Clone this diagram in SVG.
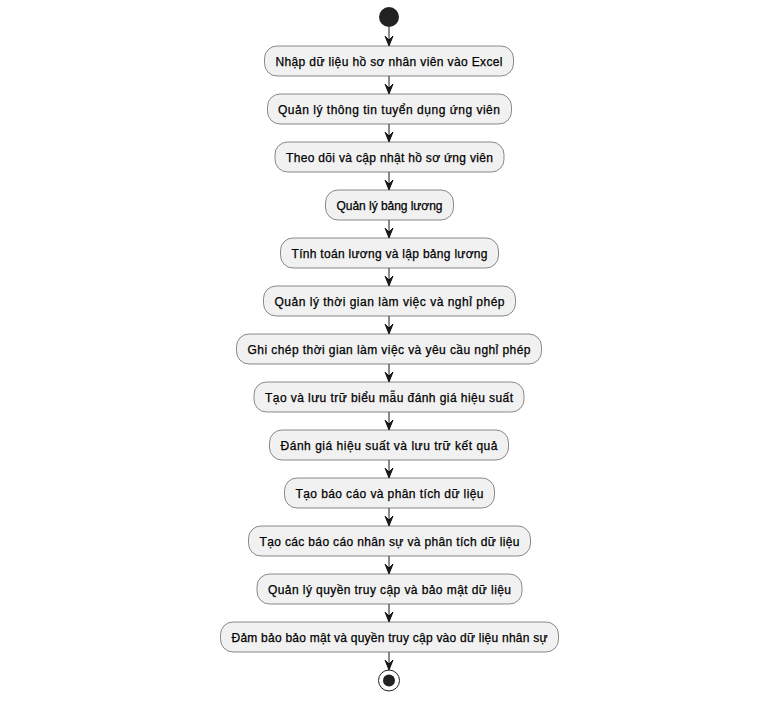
<svg xmlns="http://www.w3.org/2000/svg" width="779" height="707" viewBox="0 0 779 707">
<style>
.b{fill:#F1F1F1;stroke:#181818;stroke-width:0.5}
.t{font-family:"Liberation Sans",Arial,sans-serif;font-size:12px;fill:#000;stroke:#000;stroke-width:0.25;text-anchor:middle}
.c line{stroke:#181818;stroke-width:1}
.c polygon{fill:#181818;stroke:#181818;stroke-width:1}
</style>
<rect width="779" height="707" fill="#FFFFFF"/>
<g id="start"><circle cx="389" cy="17" r="10" fill="#222222"/></g>
<g id="n1"><rect class="b" x="264.5" y="46" width="249" height="30" rx="12.5"/><text class="t" x="389" y="65.5" textLength="227" lengthAdjust="spacing">Nhập dữ liệu hồ sơ nhân viên vào Excel</text></g>
<g id="n2"><rect class="b" x="267.5" y="94" width="244" height="30" rx="12.5"/><text class="t" x="389" y="113.5" textLength="222" lengthAdjust="spacing">Quản lý thông tin tuyển dụng ứng viên</text></g>
<g id="n3"><rect class="b" x="275" y="142" width="229" height="30" rx="12.5"/><text class="t" x="389.5" y="161.5" textLength="207" lengthAdjust="spacing">Theo dõi và cập nhật hồ sơ ứng viên</text></g>
<g id="n4"><rect class="b" x="325.5" y="190" width="128" height="30" rx="12.5"/><text class="t" x="389.5" y="209.5" textLength="106" lengthAdjust="spacing">Quản lý bảng lương</text></g>
<g id="n5"><rect class="b" x="280.5" y="238" width="218" height="30" rx="12.5"/><text class="t" x="389.5" y="257.5" textLength="196" lengthAdjust="spacing">Tính toán lương và lập bảng lương</text></g>
<g id="n6"><rect class="b" x="263.5" y="286" width="252" height="30" rx="12.5"/><text class="t" x="389.5" y="305.5" textLength="230" lengthAdjust="spacing">Quản lý thời gian làm việc và nghỉ phép</text></g>
<g id="n7"><rect class="b" x="236.5" y="334" width="305" height="30" rx="12.5"/><text class="t" x="389" y="353.5" textLength="283" lengthAdjust="spacing">Ghi chép thời gian làm việc và yêu cầu nghỉ phép</text></g>
<g id="n8"><rect class="b" x="254" y="382" width="270" height="30" rx="12.5"/><text class="t" x="389" y="401.5" textLength="248" lengthAdjust="spacing">Tạo và lưu trữ biểu mẫu đánh giá hiệu suất</text></g>
<g id="n9"><rect class="b" x="269.5" y="430" width="239" height="30" rx="12.5"/><text class="t" x="389" y="449.5" textLength="217" lengthAdjust="spacing">Đánh giá hiệu suất và lưu trữ kết quả</text></g>
<g id="n10"><rect class="b" x="284.5" y="478" width="210" height="30" rx="12.5"/><text class="t" x="389.5" y="497.5" textLength="188" lengthAdjust="spacing">Tạo báo cáo và phân tích dữ liệu</text></g>
<g id="n11"><rect class="b" x="248.5" y="526" width="282" height="30" rx="12.5"/><text class="t" x="389.5" y="545.5" textLength="260" lengthAdjust="spacing">Tạo các báo cáo nhân sự và phân tích dữ liệu</text></g>
<g id="n12"><rect class="b" x="257" y="574" width="265" height="30" rx="12.5"/><text class="t" x="389.5" y="593.5" textLength="243" lengthAdjust="spacing">Quản lý quyền truy cập và bảo mật dữ liệu</text></g>
<g id="n13"><rect class="b" x="220.5" y="622" width="338" height="30" rx="12.5"/><text class="t" x="389.5" y="641.5" textLength="316" lengthAdjust="spacing">Đảm bảo bảo mật và quyền truy cập vào dữ liệu nhân sự</text></g>
<g id="end"><circle cx="389" cy="680.5" r="10.5" fill="none" stroke="#222222" stroke-width="1"/><circle cx="389" cy="680.5" r="6" fill="#222222"/></g>
<g id="connectors" class="c">
<line x1="389" y1="27" x2="389" y2="40"/><polygon points="385,36 389,46 393,36 389,40"/>
<line x1="389" y1="76" x2="389" y2="88"/><polygon points="385,84 389,94 393,84 389,88"/>
<line x1="389" y1="124" x2="389" y2="136"/><polygon points="385,132 389,142 393,132 389,136"/>
<line x1="389" y1="172" x2="389" y2="184"/><polygon points="385,180 389,190 393,180 389,184"/>
<line x1="389" y1="220" x2="389" y2="232"/><polygon points="385,228 389,238 393,228 389,232"/>
<line x1="389" y1="268" x2="389" y2="280"/><polygon points="385,276 389,286 393,276 389,280"/>
<line x1="389" y1="316" x2="389" y2="328"/><polygon points="385,324 389,334 393,324 389,328"/>
<line x1="389" y1="364" x2="389" y2="376"/><polygon points="385,372 389,382 393,372 389,376"/>
<line x1="389" y1="412" x2="389" y2="424"/><polygon points="385,420 389,430 393,420 389,424"/>
<line x1="389" y1="460" x2="389" y2="472"/><polygon points="385,468 389,478 393,468 389,472"/>
<line x1="389" y1="508" x2="389" y2="520"/><polygon points="385,516 389,526 393,516 389,520"/>
<line x1="389" y1="556" x2="389" y2="568"/><polygon points="385,564 389,574 393,564 389,568"/>
<line x1="389" y1="604" x2="389" y2="616"/><polygon points="385,612 389,622 393,612 389,616"/>
<line x1="389" y1="652" x2="389" y2="664"/><polygon points="385,660 389,670 393,660 389,664"/>
</g>
</svg>
